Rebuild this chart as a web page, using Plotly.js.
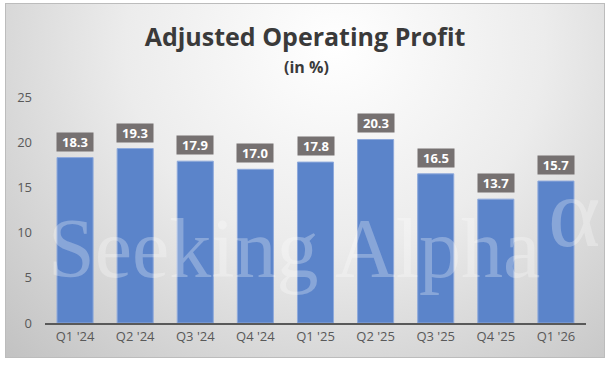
<!DOCTYPE html>
<html>
<head>
<meta charset="utf-8">
<script src="https://cdn.plot.ly/plotly-3.0.1.min.js"></script>
<style>
  html, body { margin: 0; padding: 0; background: #ffffff; width: 607px; height: 367px; overflow: hidden; }
  #frame { position: absolute; left: 5px; top: 3px; width: 598px; height: 353px;
           border: 1px solid #bcbcbc;
           background: radial-gradient(ellipse farthest-corner at 55% 12%, #ffffff 0%, #ececec 45%, #c2c2c2 100%); }
  #chart { position: absolute; left: 0; top: 0; width: 607px; height: 367px; }
</style>
</head>
<body>
<div id="frame"></div>
<div id="chart"></div>
<script>
const categories = ["Q1 '24", "Q2 '24", "Q3 '24", "Q4 '24", "Q1 '25", "Q2 '25", "Q3 '25", "Q4 '25", "Q1 '26"];
const values = [18.3, 19.3, 17.9, 17.0, 17.8, 20.3, 16.5, 13.7, 15.7];
const yTicks = [0, 5, 10, 15, 20, 25];

const FONT = "Open Sans, sans-serif";

const labelAnnotations = categories.map((c, i) => ({
  x: c, y: values[i], xref: 'x', yref: 'y',
  text: values[i].toFixed(1),
  showarrow: false, yanchor: 'bottom', yshift: 6,
  bgcolor: '#767171', borderpad: 2, width: 32, height: 14,
  font: { family: FONT, size: 13, color: '#ffffff', weight: 700 }
}));

const layout = {
  width: 607, height: 367,
  margin: { l: 45, r: 21, t: 97, b: 44 },
  paper_bgcolor: 'rgba(0,0,0,0)',
  plot_bgcolor: 'rgba(0,0,0,0)',
  showlegend: false,
  bargap: 0.4,
  title: {
    text: '<b>Adjusted Operating Profit</b>',
    x: 305 / 607, xref: 'container', xanchor: 'center',
    y: 1 - 37 / 367, yref: 'container', yanchor: 'middle',
    font: { family: FONT, size: 25, color: '#3a3a3a' }
  },
  xaxis: {
    type: 'category',
    showline: true, linecolor: '#595959', linewidth: 2,
    ticks: '', showgrid: false, zeroline: false,
    tickfont: { family: FONT, size: 13, color: '#595959' },
    fixedrange: true
  },
  yaxis: {
    range: [0, 25], tickvals: yTicks,
    showline: false, showgrid: false, zeroline: false, ticks: '',
    ticklabelstandoff: 12,
    tickfont: { family: FONT, size: 13, color: '#595959' },
    fixedrange: true
  },
  annotations: [
    {
      text: '<b>(in %)</b>', xref: 'paper', yref: 'paper',
      x: (306 - 45) / 541, y: (323 - 67) / 226, xanchor: 'center', yanchor: 'middle',
      showarrow: false, font: { family: FONT, size: 16, color: '#3a3a3a' }
    },
    {
      text: 'Seeking Alpha', xref: 'paper', yref: 'paper',
      x: (46 - 45) / 541, y: (323 - 248) / 226, xanchor: 'left', yanchor: 'middle',
      showarrow: false,
      font: { family: 'Liberation Serif, serif', size: 84, color: 'rgba(255,255,255,0.28)' }
    },
    {
      text: 'α', xref: 'paper', yref: 'paper',
      x: (546 - 45) / 541, y: (323 - 212) / 226, xanchor: 'left', yanchor: 'middle',
      showarrow: false,
      font: { family: 'Liberation Serif, serif', size: 100, color: 'rgba(255,255,255,0.28)' }
    }
  ].concat(labelAnnotations)
};

const trace = {
  type: 'bar', x: categories, y: values,
  marker: { color: '#5B84CA', line: { color: '#8EA9DB', width: 1 } },
  hoverinfo: 'none'
};

Plotly.newPlot('chart', [trace], layout, { displayModeBar: false, staticPlot: true });
</script>
</body>
</html>
